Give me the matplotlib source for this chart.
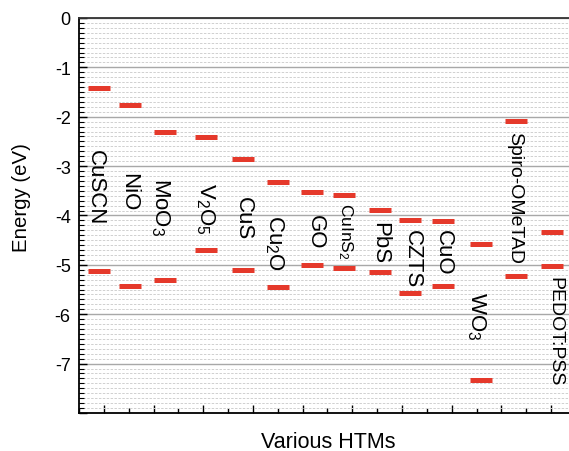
import matplotlib
matplotlib.use("Agg")
import matplotlib.pyplot as plt
from matplotlib.ticker import MultipleLocator, FuncFormatter

plt.rcParams['font.family'] = ['Liberation Sans', 'DejaVu Sans']
plt.rcParams['mathtext.fontset'] = 'custom'
plt.rcParams['mathtext.rm'] = 'Liberation Sans'
plt.rcParams['mathtext.it'] = 'Liberation Sans'
plt.rcParams['mathtext.default'] = 'regular'
plt.rcParams['axes.unicode_minus'] = False

# ---- data ----
materials = ['CuSCN', 'NiO', r'MoO$_3$', r'V$_2$O$_5$', 'CuS', r'Cu$_2$O', 'GO',
             r'CuInS$_2$', 'PbS', 'CZTS', 'CuO', r'WO$_3$', 'Spiro-OMeTAD', 'PEDOT:PSS']
bar_x = [-0.10, 0.53, 1.23, 2.06, 2.80, 3.50, 4.19, 4.83, 5.56, 6.16, 6.82, 7.59, 8.29, 9.02]
upper_level = [-1.42, -1.76, -2.30, -2.41, -2.85, -3.32, -3.52, -3.58, -3.89, -4.09, -4.12, -4.58, -2.08, -4.33]
lower_level = [-5.12, -5.42, -5.30, -4.69, -5.11, -5.45, -5.01, -5.07, -5.15, -5.58, -5.43, -7.33, -5.22, -5.03]
label_x = [-0.16, 0.49, 1.13, 2.05, 2.80, 3.44, 4.25, 4.85, 5.54, 6.20, 6.84, 7.50, 8.27, 9.08]
label_top = [-2.65, -3.12, -3.22, -3.32, -3.60, -3.97, -3.97, -3.72, -4.11, -4.27, -4.27, -5.53, -2.29, -5.22]
label_size = [16, 16, 16, 16, 16, 16, 16, 12.5, 16, 16, 16, 16, 14, 14]
y_ticklabels = {0: '0', -1: '-1', -2: '-2', -3: '-3', -4: '-4', -5: '-5', -6: '-6', -7: '-7'}

bar_w = 0.44
red = '#e5392b'

fig = plt.figure(figsize=(5.69, 4.52), dpi=100)
ax = fig.add_axes([0.1388, 0.0841, 1 - 0.1388, 0.874])

ax.set_ylim(-8, 0)
ax.set_xlim(-0.5, 9.36)

# grid
ax.yaxis.set_major_locator(MultipleLocator(1))
ax.yaxis.set_minor_locator(MultipleLocator(0.1))
ax.xaxis.set_major_locator(MultipleLocator(1))
ax.xaxis.set_minor_locator(MultipleLocator(0.5))
ax.grid(axis='y', which='major', color='#a8a8a8', lw=1.0, ls='-', zorder=0)
ax.grid(axis='y', which='minor', color='#d0d0d0', lw=0.7, ls=(0, (2.5, 1.5)), zorder=0)
ax.set_axisbelow(True)

for x, u, l in zip(bar_x, upper_level, lower_level):
    ax.hlines([u, l], x - bar_w / 2, x + bar_w / 2, colors=red, lw=3.6, zorder=3)

for name, x, y, s in zip(materials, label_x, label_top, label_size):
    ax.text(x, y, name, rotation=270, ha='center', va='top', fontsize=s, color='black', zorder=4)

ax.yaxis.set_major_formatter(FuncFormatter(lambda v, p: y_ticklabels.get(int(round(v)), '')))
ax.tick_params(axis='y', which='major', direction='in', length=6, width=1, labelsize=13, pad=6)
ax.tick_params(axis='y', which='minor', direction='in', length=3.5, width=0.8)
ax.tick_params(axis='x', which='major', direction='in', length=6, width=1, labelbottom=False)
ax.tick_params(axis='x', which='minor', direction='in', length=3.5, width=1)

ax.spines['right'].set_visible(False)
ax.spines['top'].set_color('#333333')
for sp in ['left', 'bottom', 'top']:
    ax.spines[sp].set_linewidth(1.3)

ax.set_ylabel('Energy (eV)', fontsize=14.7)
ax.yaxis.set_label_coords(-0.098, 0.548)
ax.set_xlabel('Various HTMs', fontsize=15.5)
ax.xaxis.set_label_coords(0.508, -0.046)

fig.savefig('out.png', dpi=100)
